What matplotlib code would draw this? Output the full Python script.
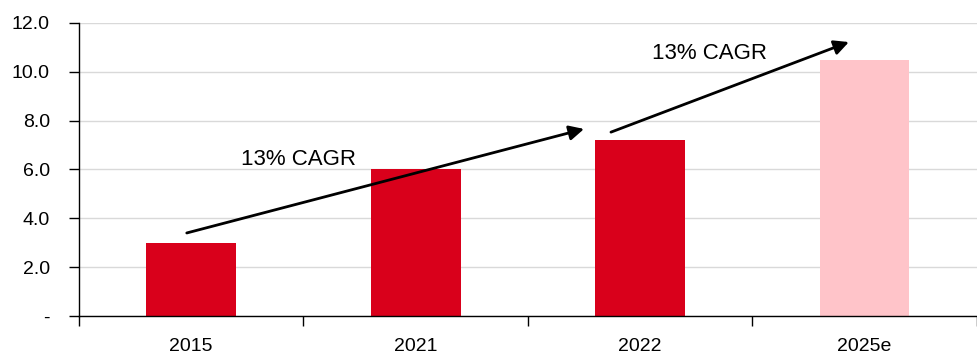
import numpy as np
import matplotlib.pyplot as plt

plt.rcParams['font.family'] = ['Liberation Sans', 'DejaVu Sans']

years = ["2015", "2021", "2022", "2025e"]
values = [3.0, 6.0, 7.2, 10.5]
bar_colors = ["#d9001b", "#d9001b", "#d9001b", "#ffc4c9"]
yticks = [0, 2, 4, 6, 8, 10, 12]
ytick_labels = ["-", "2.0", "4.0", "6.0", "8.0", "10.0", "12.0"]

# arrows (start, end) in data coords, and labels
arrows = [((-0.02, 3.4), (1.75, 7.66)), ((1.87, 7.53), (2.93, 11.22))]
cagr_labels = [("13% CAGR", 0.48, 6.4), ("13% CAGR", 2.31, 10.75)]

fig = plt.figure(figsize=(9.78, 3.56), dpi=100)
ax = fig.add_axes([0.0808, 0.1124, 0.918, 0.8230])

x = np.arange(len(years))
ax.bar(x, values, width=0.4, color=bar_colors, zorder=2)

ax.set_xlim(-0.5, len(years) - 0.5)
ax.set_ylim(0, 12)
ax.set_yticks(yticks)
ax.set_yticklabels(ytick_labels, fontsize=14)
ax.set_xticks(x)
ax.set_xticklabels(years, fontsize=14)
ax.tick_params(axis='x', length=0, pad=16)
ax.set_xticks(np.arange(len(years) + 1) - 0.5, minor=True)
ax.tick_params(axis='x', which='minor', length=7, width=1, direction='out')
ax.tick_params(axis='y', length=7, width=1, direction='out', pad=14)

ax.grid(axis='y', color='#d9d9d9', lw=1, zorder=0)
ax.spines['top'].set_visible(False)
ax.spines['right'].set_visible(False)
for s in ['left', 'bottom']:
    ax.spines[s].set_color('black')
    ax.spines[s].set_linewidth(1)

for (start, end) in arrows:
    ax.annotate("", xy=end, xytext=start,
                arrowprops=dict(arrowstyle='-|>', color='black', lw=2,
                                mutation_scale=22, shrinkA=0, shrinkB=0),
                zorder=3)

for txt, tx, ty in cagr_labels:
    ax.text(tx, ty, txt, fontsize=16, ha='center', va='center', zorder=4)

fig.savefig("out.png", dpi=100)
